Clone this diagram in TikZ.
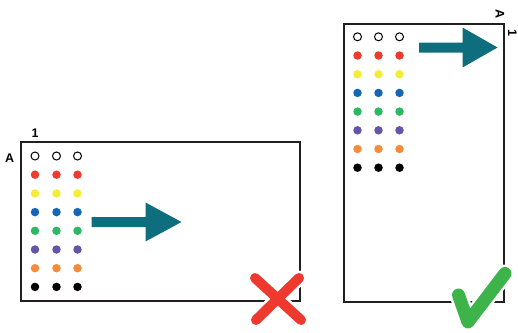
\documentclass[tikz,border=0pt]{standalone}
\usepackage{fontspec}
\setmainfont{Liberation Sans}
\definecolor{wred}{HTML}{EE3B30}
\definecolor{wyellow}{HTML}{F5EC35}
\definecolor{wblue}{HTML}{1666B8}
\definecolor{wgreen}{HTML}{2DB866}
\definecolor{wpurple}{HTML}{6554A8}
\definecolor{worange}{HTML}{F68B3A}
\definecolor{teal}{HTML}{0F6E7D}
\definecolor{xred}{HTML}{EE3A2E}
\definecolor{okgreen}{HTML}{3CB44A}
\definecolor{frame}{HTML}{231F20}
\tikzset{
  plate/.style={draw=frame,line width=2pt},
  well/.style={circle,inner sep=0pt,minimum size=8.5pt},
  lbl/.style={font=\bfseries\fontsize{12.5}{12.5}\selectfont,inner sep=0pt}
}
\begin{document}
\begin{tikzpicture}[x=1pt,y=-1pt]
   \useasboundingbox (0,0) rectangle (518,332);
   % Left
   \draw[plate] (20.5,142) rectangle (300,301);
   \node[lbl] (one-l) at (35,133) {1};
   \node[lbl] (a-l) at (9.7,158) {A};
   \foreach \col/\x in {1/35,2/56.5,3/77.5} {
     \node[well,draw=black,fill=white,line width=1pt,minimum size=8pt] (l-0-\col) at (\x,156) {};
     \foreach \row/\c in {1/wred,2/wyellow,3/wblue,4/wgreen,5/wpurple,6/worange,7/black}
       \node[well,fill=\c] (l-\row-\col) at (\x,156+18.7*\row) {};
   }
   \fill[teal] (91.5,217) -- (145.5,217) -- (145.5,202.5) -- (181.5,222)
     -- (145.5,241.5) -- (145.5,227) -- (91.5,227) -- cycle;
   % Right
   \draw[plate] (344,23.5) rectangle (504,301.5);
   \node[lbl,rotate=-90] (a-r) at (500,14) {A};
   \node[lbl,rotate=-90] (one-r) at (512.5,32.5) {1};
   \foreach \col/\x in {1/357.5,2/378.5,3/399.5} {
     \node[well,draw=black,fill=white,line width=1pt,minimum size=8pt] (r-0-\col) at (\x,36.8) {};
     \foreach \row/\c in {1/wred,2/wyellow,3/wblue,4/wgreen,5/wpurple,6/worange,7/black}
       \node[well,fill=\c] (r-\row-\col) at (\x,36.8+18.7*\row) {};
   }
   \fill[teal] (419,42.5) -- (462.5,42.5) -- (462.5,27.5) -- (497.5,47.5)
     -- (462.5,67.5) -- (462.5,52.5) -- (419,52.5) -- cycle;
   % Wrong
   \draw[white,line width=15pt,line cap=round] (255,278) -- (301,320) (299,278) -- (256,320);
   \draw[xred,line width=10pt,line cap=round] (255,278) -- (301,320) (299,278) -- (256,320);
   % Right way
   \draw[white,line width=18pt,line cap=round,line join=round] (458.5,295) -- (468,322) -- (505,273.5);
   \draw[okgreen,line width=13pt,line cap=round,line join=round] (458.5,295) -- (468,322) -- (505,273.5);
 \end{tikzpicture}
\end{document}
